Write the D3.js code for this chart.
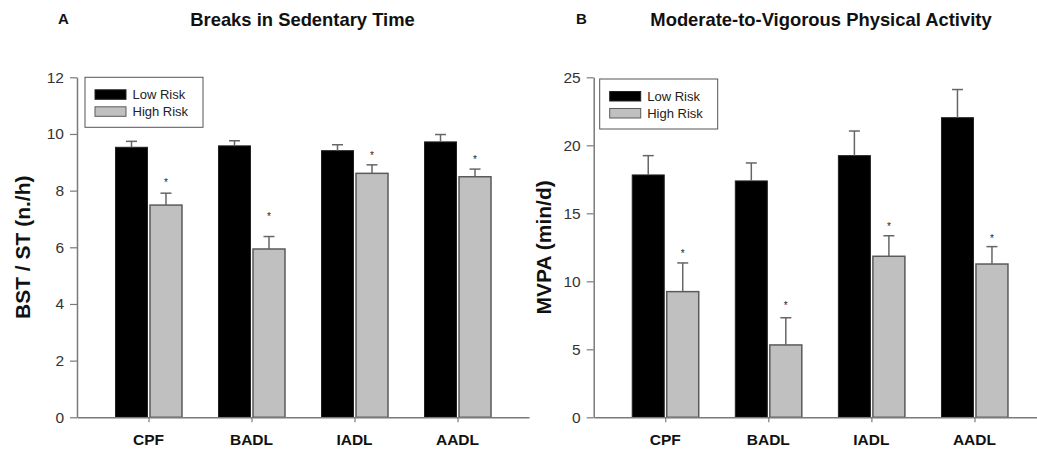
<!DOCTYPE html>
<html>
<head>
<meta charset="utf-8">
<script src="https://cdn.jsdelivr.net/npm/d3@7"></script>
<style>
  body { margin: 0; background: #fff; }
  svg { display: block; font-family: "Liberation Sans", Arial, sans-serif; }
</style>
</head>
<body>
<svg id="chart" width="1037" height="451"></svg>
<script>
// ---- data ----
const categories = ["CPF", "BADL", "IADL", "AADL"];
const seriesNames = ["Low Risk", "High Risk"];

const bstLow = [9.53, 9.58, 9.41, 9.72];
const bstLowErr = [0.21, 0.18, 0.21, 0.26];
const bstHigh = [7.49, 5.94, 8.61, 8.49];
const bstHighErr = [0.42, 0.44, 0.30, 0.27];
const bstSigMark = [8.34, 7.14, 9.30, 9.16];
const bstTicks = [0, 2, 4, 6, 8, 10, 12];

const mvpaLow = [17.82, 17.38, 19.24, 22.03];
const mvpaLowErr = [1.42, 1.32, 1.81, 2.07];
const mvpaHigh = [9.24, 5.32, 11.84, 11.27];
const mvpaHighErr = [2.11, 2.00, 1.51, 1.28];
const mvpaSigMark = [12.18, 8.31, 14.14, 13.28];
const mvpaTicks = [0, 5, 10, 15, 20, 25];

const svg = d3.select("#chart");
const axisColor = "#7a7a7a";
const lowFill = "#000000";
const highFill = "#c0c0c0";
const barStroke = "#5a5a5a";

function panel(opts) {
  const g = svg.append("g");
  const x = d3.scalePoint().domain(categories).range([opts.x0, opts.x1]).padding(0.694);
  const y = d3.scaleLinear().domain([0, opts.ymax]).range([opts.yb, opts.yt]);

  // panel letter and title
  g.append("text").attr("x", opts.letterX).attr("y", 24)
    .attr("font-size", 15).attr("font-weight", "bold").attr("fill", "#111").text(opts.letter);
  g.append("text").attr("x", opts.titleX).attr("y", 25.5).attr("text-anchor", "middle")
    .attr("font-size", 18.4).attr("font-weight", "bold").attr("fill", "#111").text(opts.title);

  // y label
  g.append("text")
    .attr("transform", `translate(${opts.ylabelX},${(opts.yt + opts.yb) / 2}) rotate(-90)`)
    .attr("text-anchor", "middle").attr("dy", "0.35em")
    .attr("font-size", 21).attr("font-weight", "bold").attr("fill", "#111").text(opts.ylabel);

  const bw = 32;
  const bars = g.append("g");
  categories.forEach((c, i) => {
    const cx = x(c);
    bars.append("rect").attr("x", cx - 33).attr("width", bw)
      .attr("y", y(opts.low[i])).attr("height", y(0) - y(opts.low[i]))
      .attr("fill", lowFill).attr("stroke", "#222").attr("stroke-width", 1);
    bars.append("rect").attr("x", cx + 1.5).attr("width", bw)
      .attr("y", y(opts.high[i])).attr("height", y(0) - y(opts.high[i]))
      .attr("fill", highFill).attr("stroke", barStroke).attr("stroke-width", 1.5);
    [[cx - 17, opts.low[i], opts.lowErr[i]], [cx + 17.5, opts.high[i], opts.highErr[i]]].forEach(([ex, v, e]) => {
      bars.append("line").attr("x1", ex).attr("x2", ex).attr("y1", y(v)).attr("y2", y(v + e))
        .attr("stroke", "#666").attr("stroke-width", 1.5);
      bars.append("line").attr("x1", ex - 5.5).attr("x2", ex + 5.5).attr("y1", y(v + e)).attr("y2", y(v + e))
        .attr("stroke", "#666").attr("stroke-width", 1.5);
    });
    bars.append("text").attr("x", cx + 17.5).attr("y", y(opts.sig[i]) + 5)
      .attr("text-anchor", "middle").attr("font-size", 10).attr("fill", "#222").text("*");
  });

  // axes
  const yAxis = g.append("g").attr("transform", `translate(${opts.x0},0)`)
    .call(d3.axisLeft(y).tickValues(opts.ticks).tickSize(7).tickSizeOuter(0).tickPadding(6));
  yAxis.attr("font-family", null).attr("font-size", null);
  yAxis.selectAll("text").attr("font-size", 15.5).attr("fill", "#333");
  const xAxis = g.append("g").attr("transform", `translate(0,${opts.yb})`)
    .call(d3.axisBottom(x).tickSize(5).tickSizeOuter(0).tickFormat(""));
  [yAxis, xAxis].forEach(a => {
    a.select(".domain").attr("stroke", axisColor).attr("stroke-width", 1.5);
    a.selectAll(".tick line").attr("stroke", axisColor).attr("stroke-width", 1.2);
  });

  // category labels
  g.selectAll(".cat").data(categories).enter().append("text")
    .attr("x", d => x(d)).attr("y", 445).attr("text-anchor", "middle")
    .attr("font-size", 15.5).attr("font-weight", "bold").attr("fill", "#111").text(d => d);

  // legend
  const lg = g.append("g");
  lg.append("rect").attr("x", opts.legX).attr("y", opts.legY).attr("width", 118).attr("height", 50)
    .attr("fill", "#fff").attr("stroke", "#555").attr("stroke-width", 1);
  seriesNames.forEach((s, i) => {
    lg.append("rect").attr("x", opts.legX + 10).attr("y", opts.legY + 12.5 + i * 17)
      .attr("width", 31).attr("height", 9.5)
      .attr("fill", i === 0 ? lowFill : highFill).attr("stroke", i === 0 ? "#222" : barStroke).attr("stroke-width", 1);
    lg.append("text").attr("x", opts.legX + 47.5).attr("y", opts.legY + 21.5 + i * 17)
      .attr("font-size", 13).attr("fill", "#222").text(s);
  });
}

panel({
  x0: 77, x1: 529, yt: 77.3, yb: 417.3, ymax: 12, ticks: bstTicks,
  low: bstLow, lowErr: bstLowErr, high: bstHigh, highErr: bstHighErr, sig: bstSigMark,
  letter: "A", letterX: 58, title: "Breaks in Sedentary Time", titleX: 302.5,
  ylabel: "BST / ST (n./h)", ylabelX: 22.5, legX: 85, legY: 77.3
});
panel({
  x0: 593.7, x1: 1046, yt: 77.3, yb: 417.3, ymax: 25, ticks: mvpaTicks,
  low: mvpaLow, lowErr: mvpaLowErr, high: mvpaHigh, highErr: mvpaHighErr, sig: mvpaSigMark,
  letter: "B", letterX: 576, title: "Moderate-to-Vigorous Physical Activity", titleX: 821,
  ylabel: "MVPA (min/d)", ylabelX: 544, legX: 599.7, legY: 79
});
</script>
</body>
</html>
